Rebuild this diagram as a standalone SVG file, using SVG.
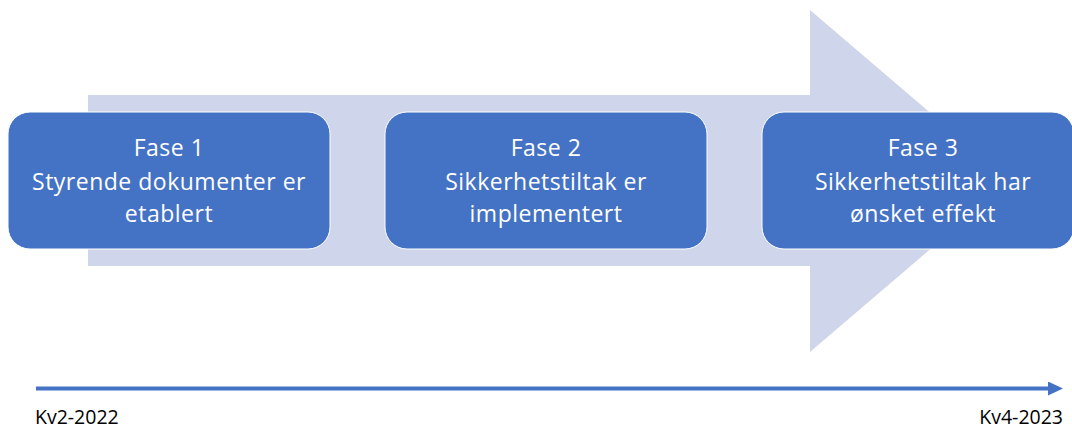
<svg xmlns="http://www.w3.org/2000/svg" width="1072" height="428" viewBox="0 0 1072 428">
<defs>
<style>
.box{fill:#4472C4;stroke:#ffffff;stroke-width:1}
.t{font-family:"Open Sans","Noto Sans",sans-serif;font-size:23px;letter-spacing:0.5px;fill:#ffffff;text-anchor:middle}
.lbl{font-family:"Open Sans","Noto Sans",sans-serif;font-size:19.5px;fill:#000000}
</style>
<marker id="ah" viewBox="0 0 15 14" refX="0" refY="7" markerWidth="15" markerHeight="14" markerUnits="userSpaceOnUse" orient="auto">
<path d="M0,0 L15,7 L0,14 Z" fill="#4472C4"/>
</marker>
</defs>
<g id="background-arrow">
<path d="M88,95 L810,95 L810,10 L1010,181 L810,352 L810,266 L88,266 Z" fill="#CFD5EA"/>
</g>
<g id="fase1">
<rect class="box" x="8" y="112" width="322" height="137" rx="22"/>
<text class="t" x="169" y="156">Fase 1</text>
<text class="t"><tspan x="169" y="190">Styrende dokumenter er</tspan><tspan x="169" y="222">etablert</tspan></text>
</g>
<g id="fase2">
<rect class="box" x="385" y="112" width="322" height="137" rx="22"/>
<text class="t" x="546" y="156">Fase 2</text>
<text class="t"><tspan x="546" y="190">Sikkerhetstiltak er</tspan><tspan x="546" y="222">implementert</tspan></text>
</g>
<g id="fase3">
<rect class="box" x="762" y="112" width="312" height="137" rx="22"/>
<text class="t" x="923" y="156">Fase 3</text>
<text class="t"><tspan x="923" y="190">Sikkerhetstiltak har</tspan><tspan x="923" y="222">ønsket effekt</tspan></text>
</g>
<g id="connectors">
<line x1="36" y1="388.5" x2="1048" y2="388.5" stroke="#4472C4" stroke-width="4" marker-end="url(#ah)"/>
</g>
<g id="labels">
<text class="lbl" x="35" y="424">Kv2-2022</text>
<text class="lbl" x="1063" y="424" text-anchor="end">Kv4-2023</text>
</g>
</svg>
